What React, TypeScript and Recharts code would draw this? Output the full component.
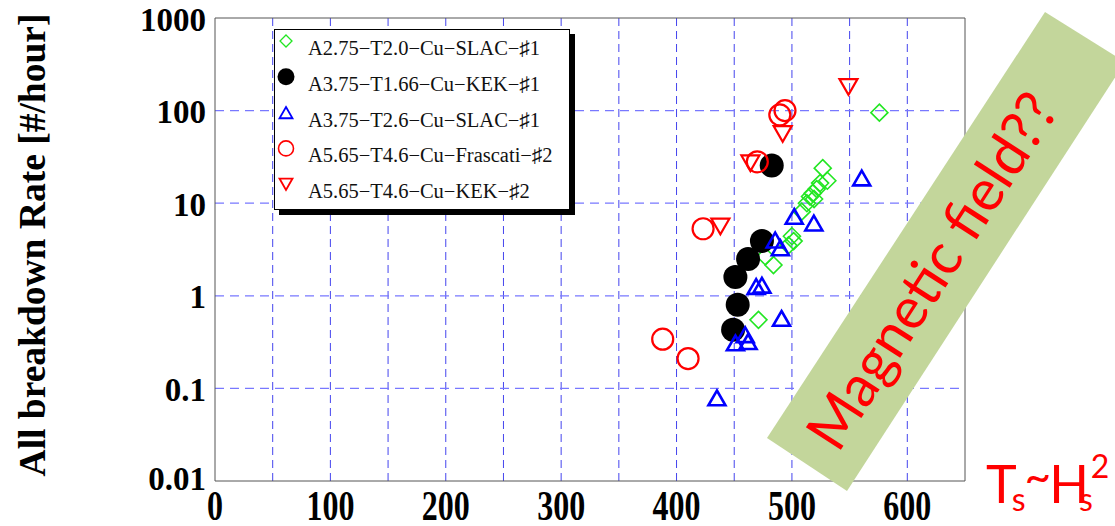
import React from 'react';
import { ScatterChart, Scatter, XAxis, YAxis, ReferenceLine, Legend } from 'recharts';

// ---------- data ----------
const seriesNames = [
  'A2.75−T2.0−Cu−SLAC−♯1',
  'A3.75−T1.66−Cu−KEK−♯1',
  'A3.75−T2.6−Cu−SLAC−♯1',
  'A5.65−T4.6−Cu−Frascati−♯2',
  'A5.65−T4.6−Cu−KEK−♯2',
];

const slacA275 = [
  { x: 471, y: 0.55 }, { x: 477, y: 2.66 }, { x: 484, y: 2.15 }, { x: 497, y: 3.5 },
  { x: 500, y: 4.4 }, { x: 501.5, y: 3.9 }, { x: 508.5, y: 8.1 }, { x: 513, y: 10 },
  { x: 515.7, y: 11.8 }, { x: 519.2, y: 11.1 }, { x: 518, y: 12.8 }, { x: 521.5, y: 14.2 },
  { x: 524.4, y: 16.5 }, { x: 530.7, y: 17.5 }, { x: 526.7, y: 23.9 }, { x: 575.8, y: 95 },
];
const kekA375 = [
  { x: 449, y: 0.43 }, { x: 453, y: 0.8 }, { x: 451, y: 1.6 }, { x: 462, y: 2.5 },
  { x: 474, y: 3.9 }, { x: 482.5, y: 25.5 },
];
const slacA375 = [
  { x: 435, y: 0.079 }, { x: 451, y: 0.31 }, { x: 459.5, y: 0.38 }, { x: 462, y: 0.32 },
  { x: 469, y: 1.26 }, { x: 474, y: 1.3 }, { x: 491, y: 0.57 }, { x: 485.5, y: 4.0 },
  { x: 490, y: 3.3 }, { x: 502, y: 7.2 }, { x: 519, y: 6.1 }, { x: 560.5, y: 18.7 },
];
const frascatiA565 = [
  { x: 388, y: 0.34 }, { x: 410, y: 0.21 }, { x: 423, y: 5.3 }, { x: 470, y: 28 },
  { x: 489.5, y: 90 }, { x: 494, y: 100 },
];
const kekA565 = [
  { x: 438, y: 5.6 }, { x: 464, y: 27 }, { x: 492, y: 56 }, { x: 549, y: 180 },
];

const xTickLabels = [0, 100, 200, 300, 400, 500, 600];
const xTickMarks = [0, 20, 40, 60, 80, 100, 120, 140, 160, 180, 200, 220, 240, 260, 280, 300, 320, 340, 360, 380, 400, 420, 440, 460, 480, 500, 520, 540, 560, 580, 600, 620, 640];
const xGrid = [50, 100, 150, 200, 250, 300, 350, 400, 450, 500, 550, 600];
const yTickLabels = [0.01, 0.1, 1, 10, 100, 1000];
const yGrid = [0.1, 1, 10, 100];
const decades = [0.01, 0.1, 1, 10, 100];
const mantissas = [2, 3, 4, 5, 6, 7, 8, 9];
const yMinorTicks = decades.flatMap((d) => mantissas.map((m) => +(m * d).toPrecision(3)));

const GREEN = '#22e622';
const BLUE = '#0000ff';
const RED = '#ff0000';
const GRID_V = '#4444ee';
const GRID_H = '#7878ff';
const AXIS = '#555555';
const SERIF = '"Liberation Serif", "Times New Roman", serif';
const SANS = 'Lato, "Open Sans", sans-serif';

// ---------- marker shapes ----------
const Diamond = ({ cx, cy, r = 8.5, sw = 1.6 }: any) => (
  <polygon points={`${cx},${cy - r} ${cx + r},${cy} ${cx},${cy + r} ${cx - r},${cy}`} fill="none" stroke={GREEN} strokeWidth={sw} />
);
const Dot = ({ cx, cy, r = 12 }: any) => <circle cx={cx} cy={cy} r={r} fill="#000" />;
const TriUp = ({ cx, cy, s = 17, sw = 2.6 }: any) => {
  const h = s * 0.87;
  return (
    <polygon points={`${cx},${cy - h / 2} ${cx + s / 2},${cy + h / 2} ${cx - s / 2},${cy + h / 2}`} fill="none" stroke={BLUE} strokeWidth={sw} strokeLinejoin="miter" />
  );
};
const Ring = ({ cx, cy, r = 10.5, sw = 2.2 }: any) => <circle cx={cx} cy={cy} r={r} fill="none" stroke={RED} strokeWidth={sw} />;
const TriDown = ({ cx, cy, s = 18, sw = 2.2 }: any) => {
  const h = s * 0.87;
  return (
    <polygon points={`${cx - s / 2},${cy - h / 2} ${cx + s / 2},${cy - h / 2} ${cx},${cy + h / 2}`} fill="none" stroke={RED} strokeWidth={sw} />
  );
};

// ---------- ticks ----------
const YTick = ({ x, y, payload }: any) => {
  const v = payload.value;
  const dy = v === 0.01 ? 9 : 12.5;
  return (
    <text x={x} y={y + dy} textAnchor="end" fontFamily={SERIF} fontWeight="bold" fontSize={33} fill="#000">
      {String(v)}
    </text>
  );
};
const XTick = ({ x, payload }: any) => (
  <text transform={`translate(${x},${520}) scale(1,1.3)`} x={0} y={0} textAnchor="middle" fontFamily={SERIF} fontWeight="bold" fontSize={32} fill="#000">
    {String(payload.value)}
  </text>
);

const YLabel = () => (
  <text transform="translate(45,245) rotate(-90)" textAnchor="middle" fontFamily={SERIF} fontWeight="bold" fontSize={37.5} fill="#000">
    All breakdown Rate [#/hour]
  </text>
);

// ---------- legend ----------
const legendMarkers = [
  (cx: number, cy: number) => <Diamond cx={cx} cy={cy} r={6} sw={1.3} />,
  (cx: number, cy: number) => <Dot cx={cx} cy={cy} r={8.5} />,
  (cx: number, cy: number) => <TriUp cx={cx} cy={cy} s={13} sw={1.8} />,
  (cx: number, cy: number) => <Ring cx={cx} cy={cy} r={7.5} sw={1.6} />,
  (cx: number, cy: number) => <TriDown cx={cx} cy={cy} s={13} sw={1.8} />,
];
const LegendBox = () => (
  <div
    style={{
      width: 294,
      height: 179,
      background: '#fff',
      border: '1.5px solid #000',
      boxShadow: '5px 5px 0 #000',
      position: 'relative',
    }}
  >
    <svg width={294} height={179} style={{ position: 'absolute', left: 0, top: 0 }}>
      {seriesNames.map((n, i) => (
        <g key={n}>
          {legendMarkers[i](11, 11 + i * 35.8)}
          <text x={33} y={25 + i * 35.8} fontFamily={SERIF} fontSize={20.5} fill="#111">
            {n}
          </text>
        </g>
      ))}
    </svg>
  </div>
);

export default function App() {
  return (
    <div style={{ position: 'relative', width: 1115, height: 526, background: '#fff' }}>
      <style>{`body{margin:0;background:#fff}`}</style>
      <ScatterChart width={1115} height={526} margin={{ top: 18, right: 150, bottom: 0, left: 0 }}>
        <XAxis xAxisId="x" dataKey="x" type="number" domain={[0, 650]} allowDataOverflow ticks={xTickLabels} tick={<XTick />} tickLine={false} tickSize={0} axisLine={{ stroke: AXIS }} height={45} interval={0} />
        <YAxis yAxisId="y" dataKey="y" type="number" scale="log" domain={[0.01, 1000]} allowDataOverflow ticks={yTickLabels} tick={<YTick />} tickLine={false} tickSize={0} tickMargin={9} axisLine={{ stroke: AXIS }} width={215} interval={0} label={<YLabel />} />

        <XAxis xAxisId="xb" type="number" domain={[0, 650]} allowDataOverflow ticks={xTickMarks} orientation="bottom" mirror height={1} tick={false} tickSize={5} tickLine={{ stroke: AXIS }} axisLine={false} interval={0} />
        <XAxis xAxisId="xt" type="number" domain={[0, 650]} allowDataOverflow ticks={xTickMarks} orientation="top" mirror height={1} tick={false} tickSize={5} tickLine={{ stroke: AXIS }} axisLine={{ stroke: AXIS }} interval={0} />
        <YAxis yAxisId="ylm" type="number" scale="log" domain={[0.01, 1000]} allowDataOverflow ticks={yMinorTicks} orientation="left" mirror width={1} tick={false} tickSize={4} tickLine={{ stroke: AXIS }} axisLine={false} interval={0} />
        <YAxis yAxisId="ylM" type="number" scale="log" domain={[0.01, 1000]} allowDataOverflow ticks={yTickLabels} orientation="left" mirror width={1} tick={false} tickSize={7} tickLine={{ stroke: AXIS }} axisLine={false} interval={0} />
        <YAxis yAxisId="yrm" type="number" scale="log" domain={[0.01, 1000]} allowDataOverflow ticks={yMinorTicks} orientation="right" mirror width={1} tick={false} tickSize={4} tickLine={{ stroke: AXIS }} axisLine={false} interval={0} />
        <YAxis yAxisId="yrM" type="number" scale="log" domain={[0.01, 1000]} allowDataOverflow ticks={yTickLabels} orientation="right" mirror width={1} tick={false} tickSize={7} tickLine={{ stroke: AXIS }} axisLine={false} interval={0} />

        {xGrid.map((v) => (
          <ReferenceLine key={`gx${v}`} xAxisId="x" yAxisId="y" x={v} stroke={GRID_V} strokeWidth={1} strokeDasharray="8 5" ifOverflow="hidden" />
        ))}
        {yGrid.map((v) => (
          <ReferenceLine key={`gy${v}`} xAxisId="x" yAxisId="y" y={v} stroke={GRID_H} strokeWidth={1.2} strokeDasharray="9 6" ifOverflow="hidden" />
        ))}
        <ReferenceLine xAxisId="x" yAxisId="y" x={650} stroke={AXIS} strokeWidth={1} ifOverflow="extendDomain" />

        <Legend
          layout="vertical"
          align="center"
          verticalAlign="middle"
          content={() => <LegendBox />}
          wrapperStyle={{ position: 'absolute', left: 274, top: 29, width: 300, height: 186 }}
        />

        <Scatter name={seriesNames[0]} xAxisId="x" yAxisId="y" data={slacA275} isAnimationActive={false} shape={(p: any) => <Diamond cx={p.cx} cy={p.cy} />} />
        <Scatter name={seriesNames[1]} xAxisId="x" yAxisId="y" data={kekA375} isAnimationActive={false} shape={(p: any) => <Dot cx={p.cx} cy={p.cy} />} />
        <Scatter name={seriesNames[2]} xAxisId="x" yAxisId="y" data={slacA375} isAnimationActive={false} shape={(p: any) => <TriUp cx={p.cx} cy={p.cy} />} />
        <Scatter name={seriesNames[3]} xAxisId="x" yAxisId="y" data={frascatiA565} isAnimationActive={false} shape={(p: any) => <Ring cx={p.cx} cy={p.cy} />} />
        <Scatter name={seriesNames[4]} xAxisId="x" yAxisId="y" data={kekA565} isAnimationActive={false} shape={(p: any) => <TriDown cx={p.cx} cy={p.cy} />} />
      </ScatterChart>

      <svg width={1115} height={526} style={{ position: 'absolute', left: 0, top: 0, pointerEvents: 'none' }}>
        <polygon points="767,438 1045,12 1125,62 847,491" fill="#c3d69b" />
        <text
          transform="translate(949,282) rotate(-57.2)"
          textAnchor="middle"
          fontFamily={SANS}
          fontSize={58}
          fill={RED}
          textLength={410}
          lengthAdjust="spacingAndGlyphs"
        >
          Magnetic field??
        </text>
        <text x={986} y={503} fontFamily={SANS} fill={RED} fontSize={52}>
          T
          <tspan fontSize={32} dx={-5} dy={8}>s</tspan>
          <tspan fontSize={46} dx={-1} dy={-18}>~</tspan>
          <tspan fontSize={52} dx={-2} dy={10}>H</tspan>
          <tspan fontSize={32} dx={-10} dy={8}>s</tspan>
          <tspan fontSize={32} dx={-2} dy={-33}>2</tspan>
        </text>
      </svg>
    </div>
  );
}
